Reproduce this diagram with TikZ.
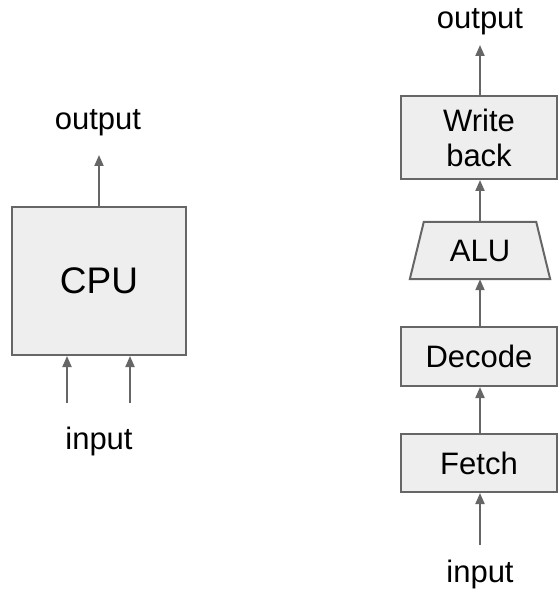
\documentclass[tikz,border=0pt]{standalone}
\usepackage{fontspec}
\setmainfont{Liberation Sans}
\usetikzlibrary{arrows.meta,calc}
\definecolor{edgegray}{HTML}{666666}
\definecolor{boxfill}{HTML}{EEEEEE}
\tikzset{
  stagebox/.style={draw=edgegray, fill=boxfill, line width=2pt, inner sep=0pt,
    font=\fontsize{31}{35}\selectfont, align=center},
  label31/.style={font=\fontsize{31}{35}\selectfont, anchor=base, inner sep=0pt},
  flow/.style={draw=edgegray, line width=2pt, -{Triangle[length=11pt,width=9pt]}},
}
\begin{document}
\begin{tikzpicture}[x=1pt,y=-1pt]
\useasboundingbox (0,0) rectangle (558,593);
% left: CPU
\node[stagebox, minimum width=174pt, minimum height=148pt,
  font=\fontsize{37}{40}\selectfont] (cpu) at (99,281) {CPU};
\node[label31] (outL) at (98,130) {output};
\node[label31] (inL) at (99,449) {input};
\coordinate (outLend) at (99,155);
\coordinate (inLa) at (67,403);
\coordinate (inLb) at (130,403);
\draw[flow] (cpu.north) -- (outLend);
\draw[flow] (inLa) -- (inLa |- cpu.south);
\draw[flow] (inLb) -- (inLb |- cpu.south);
% right: pipeline
\node[stagebox, minimum width=156pt, minimum height=83pt] (wb) at (479,137.5) {Write\\back};
\node[inner sep=0pt, minimum width=112pt, minimum height=57pt,
  font=\fontsize{31}{35}\selectfont] (alu) at (480,250.5) {};
\filldraw[draw=edgegray, fill=boxfill, line width=2pt, line join=miter]
  (alu.north west) -- (alu.north east) -- ([xshift=14pt]alu.south east)
  -- ([xshift=-14pt]alu.south west) -- cycle;
\node[font=\fontsize{31}{35}\selectfont, inner sep=0pt] at (alu.center) {ALU};
\node[stagebox, minimum width=156pt, minimum height=59pt] (dec) at (479,356.5) {Decode};
\node[stagebox, minimum width=156pt, minimum height=58pt] (fet) at (479,463) {Fetch};
\node[label31] (outR) at (480,29) {output};
\node[label31] (inR) at (480,582) {input};
\coordinate (outRend) at (480,45);
\coordinate (inRstart) at (480,545);
\draw[flow] (wb.north -| alu.north) -- (outRend);
\draw[flow] (alu.north) -- (alu.north |- wb.south);
\draw[flow] (dec.north -| alu.south) -- (alu.south);
\draw[flow] (fet.north -| alu.south) -- (dec.south -| alu.south);
\draw[flow] (inRstart) -- (inRstart |- fet.south);
\end{tikzpicture}
\end{document}
